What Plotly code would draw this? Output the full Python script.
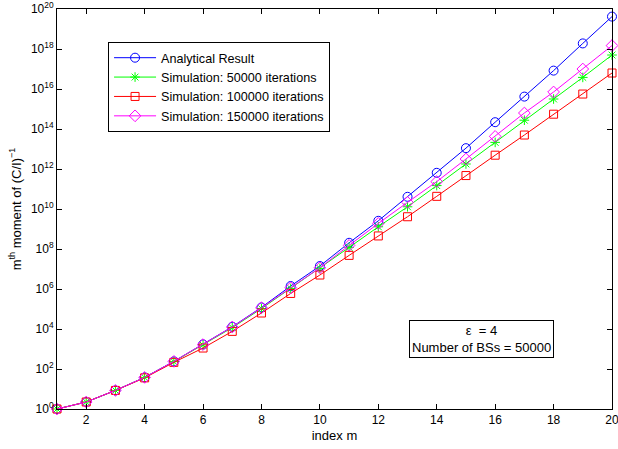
import plotly.graph_objects as go

m_index = list(range(1, 21))

analytical = [1, 2.24, 8.5, 38, 240, 1700, 1.29e4, 1.2e5, 1.41e6, 1.41e7,
              2.04e8, 2.57e9, 4.07e10, 6.46e11, 1.1e13, 2.19e14, 4.17e15,
              8.3e16, 1.9e18, 4.17e19]
sim_50000 = [1, 2.24, 8.5, 38, 234, 1580, 1.17e4, 1.05e5, 1.07e6, 1.07e7,
             1.2e8, 1.29e9, 1.29e10, 1.48e11, 1.78e12, 2.14e13, 2.75e14,
             3.16e15, 3.8e16, 5.0e17]
sim_100000 = [1, 2.24, 8.5, 36, 214, 1120, 7600, 6.3e4, 6.0e5, 5.0e6,
              4.8e7, 4.5e8, 4.1e9, 4.3e10, 4.7e11, 4.9e12, 5.0e13,
              5.5e14, 5.6e15, 6.3e16]
sim_150000 = [1, 2.24, 8.5, 38, 240, 1660, 1.26e4, 1.15e5, 1.15e6, 1.15e7,
              1.51e8, 1.9e9, 2.14e10, 2.34e11, 3.16e12, 4.27e13, 6.3e14,
              7.1e15, 1.0e17, 1.48e18]

series_names = ["Analytical Result", "Simulation: 50000 iterations",
                "Simulation: 100000 iterations", "Simulation: 150000 iterations"]

x_ticks = list(range(2, 21, 2))
y_exponents = list(range(0, 21, 2))

FONT = "Liberation Sans, Arial, Helvetica, sans-serif"

fig = go.Figure()
styles = [
    (analytical, "#0000ff", "circle-open", 9),
    (sim_50000, "#00ff00", "asterisk-open", 8),
    (sim_100000, "#ff0000", "square-open", 8),
    (sim_150000, "#ff00ff", "diamond-open", 9),
]
for name, (vals, color, sym, size) in zip(series_names, styles):
    fig.add_trace(go.Scatter(
        x=m_index, y=vals, name=name, mode="lines+markers",
        line=dict(color=color, width=1),
        marker=dict(symbol=sym, size=size, color=color, line=dict(width=1, color=color)),
        cliponaxis=False,
    ))

fig.update_layout(
    width=618, height=449,
    margin=dict(l=57, r=6, t=9, b=40, autoexpand=False),
    paper_bgcolor="white", plot_bgcolor="white",
    font=dict(family=FONT, size=12, color="black"),
    showlegend=True,
    legend=dict(
        x=0.092, y=0.9175, xanchor="left", yanchor="top",
        bordercolor="black", borderwidth=1, bgcolor="white",
        font=dict(family=FONT, size=12.6, color="black"),
        tracegroupgap=0, itemwidth=42,
    ),
    xaxis=dict(
        range=[1, 20], tickvals=x_ticks, ticktext=[str(v) for v in x_ticks],
        ticks="inside", ticklen=5, tickcolor="black",
        showline=True, linecolor="black", linewidth=1, mirror="ticks",
        showgrid=False, zeroline=False, automargin=False,
        ticklabeloverflow="allow",
        title=dict(text="index m", standoff=4, font=dict(size=13)),
        tickfont=dict(size=12),
    ),
    yaxis=dict(
        type="log", range=[0, 20],
        tickvals=[10.0 ** e for e in y_exponents],
        ticktext=["10<sup>%d</sup>" % e for e in y_exponents],
        ticks="inside", ticklen=5, tickcolor="black",
        showline=True, linecolor="black", linewidth=1, mirror="ticks",
        showgrid=False, zeroline=False, automargin=False,
        ticklabeloverflow="allow",
        title=dict(text="m<sup>th</sup> moment of (C/I)<sup>\u22121</sup>", standoff=6, font=dict(size=13)),
        tickfont=dict(size=12),
    ),
    annotations=[dict(
        text="\u03b5  = 4<br>Number of BSs = 50000",
        x=0.764, y=0.175, xref="paper", yref="paper",
        xanchor="center", yanchor="middle", showarrow=False,
        bordercolor="black", borderwidth=1, borderpad=2, bgcolor="white",
        font=dict(family=FONT, size=13, color="black"),
        align="center",
    )],
)

fig.write_html(
    "out.html",
    config={"displayModeBar": False},
    post_script="document.body.style.margin='0';document.body.style.padding='0';",
)
